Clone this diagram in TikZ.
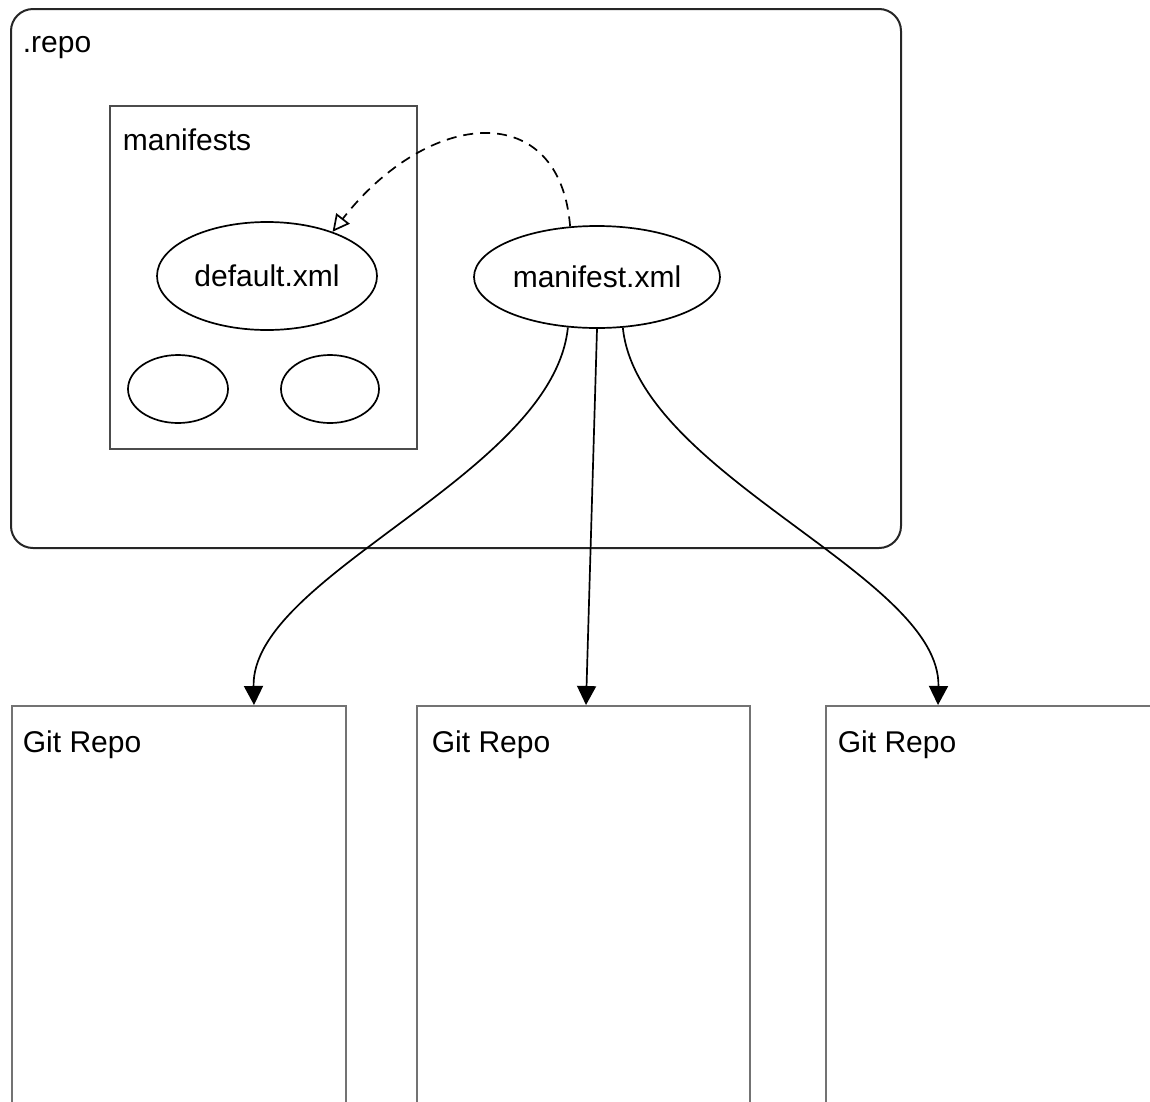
\documentclass[tikz,border=0pt]{standalone}
\usepackage{fontspec}
\setmainfont{Liberation Sans}
\usetikzlibrary{shapes.geometric,arrows.meta}

\begin{document}
\begin{tikzpicture}[x=1pt, y=-1pt, line width=1.7pt]
    \tikzstyle{every node}=[inner sep=0pt, font=\fontsize{30}{36}\selectfont]
    \tikzstyle{box}=[draw=black!55, line width=2pt, rectangle, anchor=north west]
    \tikzstyle{file}=[draw, ellipse, line width=1.7pt]
    \tikzstyle{title}=[anchor=base west]
    \tikzstyle{link}=[-{Triangle[length=19pt,width=19pt]}]
    \clip (0,0) rectangle (1150,1101);
    \node [box, draw=black!85, rounded corners=22pt, minimum width=890, minimum height=539] (repo) at (10,8) {};
    \node [title] (repolbl) at (22,52) {.repo};
    \node [box, draw=black!70, minimum width=307, minimum height=343] (mnfs) at (109,105) {};
    \node [title] (mnfslbl) at (122,150) {manifests};
    \node [file, minimum width=220, minimum height=108] (dflt) at (267,276) {default.xml};
    \node [file, minimum width=100, minimum height=68] (other1) at (178,389) {};
    \node [file, minimum width=98, minimum height=68] (other2) at (330,389) {};
    \node [file, minimum width=246, minimum height=102] (mfst) at (597,277) {manifest.xml};
    \node [box, minimum width=334, minimum height=450] (git1) at (11,705) {};
    \node [box, minimum width=333, minimum height=450] (git2) at (416,705) {};
    \node [box, minimum width=334, minimum height=450] (git3) at (825,705) {};
    \node [title] (git1lbl) at (22,752) {Git Repo};
    \node [title] (git2lbl) at (431,752) {Git Repo};
    \node [title] (git3lbl) at (837,752) {Git Repo};
    \draw [dash pattern=on 10pt off 7pt, -{Triangle[open,length=17pt,width=17pt]}] (mfst.118) .. controls +(-10,-128) and +(97,-124) .. (dflt.34);
    \draw [link] (mfst.-120) .. controls +(-15,147) and +(-3,-130) .. ([xshift=75pt]git1.north);
    \draw [link] (mfst.south) -- ([xshift=2.5pt]git2.north);
    \draw [link] (mfst.-63) .. controls +(15,147) and +(3,-130) .. ([xshift=-55pt]git3.north);
\end{tikzpicture}
\end{document}
